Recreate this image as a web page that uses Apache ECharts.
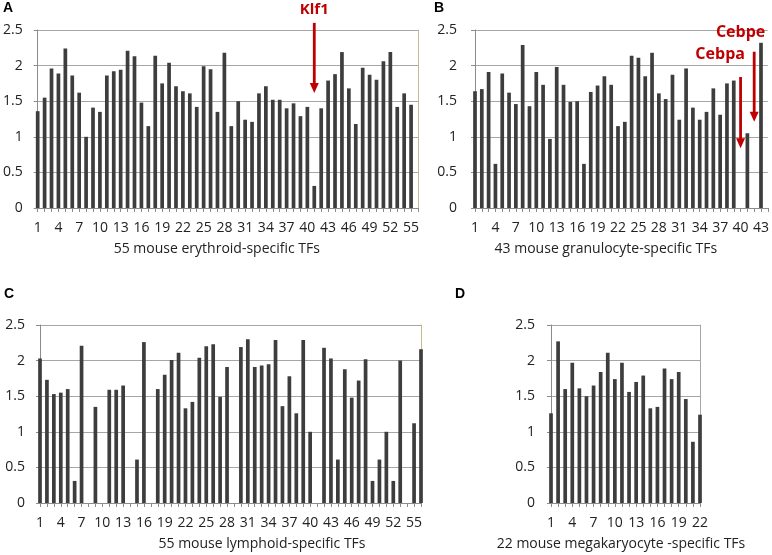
<!DOCTYPE html>
<html><head><meta charset="utf-8">
<script src="https://cdn.jsdelivr.net/npm/echarts/dist/echarts.min.js"></script>
<style>html,body{margin:0;padding:0;background:#fff}#c{width:772px;height:555px}</style>
</head><body><div id="c"></div><script>
// ---- data ----
const catsErythroid = ['1','2','3','4','5','6','7','8','9','10','11','12','13','14','15','16','17','18','19','20','21','22','23','24','25','26','27','28','29','30','31','32','33','34','35','36','37','38','39','40','41','42','43','44','45','46','47','48','49','50','51','52','53','54','55','56'];
const erythroid = [1.36,1.55,1.96,1.89,2.24,1.86,1.62,1.00,1.41,1.35,
  1.86,1.92,1.94,2.21,2.13,1.48,1.15,2.14,1.75,2.04,
  1.71,1.64,1.61,1.42,1.99,1.95,1.35,2.18,1.15,1.50,
  1.24,1.21,1.61,1.71,1.52,1.52,1.40,1.47,1.29,1.42,
  0.31,1.40,1.79,1.88,2.19,1.68,1.18,1.97,1.87,1.80,
  2.06,2.19,1.42,1.61,1.45];

const catsGranulocyte = ['1','2','3','4','5','6','7','8','9','10','11','12','13','14','15','16','17','18','19','20','21','22','23','24','25','26','27','28','29','30','31','32','33','34','35','36','37','38','39','40','41','42','43','44'];
const granulocyte = [1.64,1.67,1.91,0.62,1.89,1.62,1.46,2.29,1.43,1.91,
  1.73,0.97,1.98,1.73,1.49,1.50,0.62,1.63,1.72,1.85,
  1.73,1.15,1.21,2.14,2.11,1.85,2.18,1.61,1.53,1.87,
  1.24,1.96,1.41,1.24,1.35,1.68,1.31,1.75,1.79,0,
  1.05,0,2.32];

const catsLymphoid = ['1','2','3','4','5','6','7','8','9','10','11','12','13','14','15','16','17','18','19','20','21','22','23','24','25','26','27','28','29','30','31','32','33','34','35','36','37','38','39','40','41','42','43','44','45','46','47','48','49','50','51','52','53','54','55','56'];
const lymphoid = [2.03,1.73,1.53,1.55,1.60,0.31,2.21,0,1.35,0,
  1.59,1.59,1.65,0,0.61,2.26,0,1.60,1.80,2.01,
  2.11,1.33,1.42,2.04,2.20,2.23,1.49,1.91,0,2.19,
  2.30,1.91,1.93,1.95,2.29,1.36,1.78,1.26,2.29,1.00,
  0,2.18,2.03,0.61,1.88,1.48,1.72,2.02,0.31,0.61,
  1.00,0.31,2.00,0,1.12,2.16];

const catsMegakaryocyte = ['1','2','3','4','5','6','7','8','9','10','11','12','13','14','15','16','17','18','19','20','21','22'];
const megakaryocyte = [1.26,2.27,1.60,1.97,1.61,1.50,1.65,1.84,2.11,1.74,
  1.97,1.56,1.70,1.79,1.33,1.35,1.89,1.74,1.84,1.46,0.86,1.24];

const axisNames = ['55 mouse erythroid-specific TFs','43 mouse granulocyte-specific TFs',
  '55 mouse lymphoid-specific TFs','22 mouse megakaryocyte -specific TFs'];
const panelLetters = ['A','B','C','D'];

// annotations: [panel, category index, y from, y to, label, label category pos, label y, font size]
const arrows = [
  [0, 40, 2.60, 1.615, 'Klf1', 40.3, 2.78, 15],
  [1, 39, 1.84, 0.84, 'Cebpa', 35.5, 2.15, 16],
  [1, 41, 2.195, 1.21, 'Cebpe', 38.55, 2.465, 16]
];

// ---- layout ----
const FONT = '"Open Sans", sans-serif';
const panels = [
  {cats: catsErythroid, vals: erythroid, grid:{left:36, top:30, width:382, height:178}, border:'#c8b98c', lblMargin:15, namePad:[0,22,0,0]},
  {cats: catsGranulocyte, vals: granulocyte, grid:{left:475, top:30, width:297, height:178}, border:null, lblMargin:18, namePad:[0,31,0,0]},
  {cats: catsLymphoid, vals: lymphoid, grid:{left:40, top:325, width:381, height:178}, border:'#c8b98c', lblMargin:15, namePad:[0,0,0,63]},
  {cats: catsMegakaryocyte, vals: megakaryocyte, grid:{left:551, top:325, width:149, height:178}, border:'#a6a6a6', lblMargin:16, namePad:[0,9,0,0]}
];

const grid = [], xAxis = [], yAxis = [], series = [];
panels.forEach((p, i) => {
  grid.push(Object.assign({containLabel:false}, p.grid));
  xAxis.push({
    type:'category', gridIndex:i, data:p.cats, boundaryGap:false,
    axisLine:{lineStyle:{color:'#8c8c8c', width:1}},
    axisTick:{show:true, interval:0, length:4, lineStyle:{color:'#8c8c8c'}},
    axisLabel:{interval:2, color:'#222', fontFamily:FONT, fontSize:14, margin:13},
    splitLine:{show:false},
    name: axisNames[i], nameLocation:'middle', nameGap:34,
    nameTextStyle:{color:'#222', fontFamily:FONT, fontSize:14, padding:p.namePad}
  });
  yAxis.push({
    type:'value', gridIndex:i, min:0, max:2.5, interval:0.5,
    axisLine:{show:true, lineStyle:{color:'#8c8c8c'}},
    axisTick:{show:true, length:4, lineStyle:{color:'#8c8c8c'}},
    axisLabel:{color:'#222', fontFamily:FONT, fontSize:14, margin:p.lblMargin},
    splitLine:{show:true, lineStyle:{color:'#a6a6a6', width:1}}
  });
  series.push({
    type:'bar', xAxisIndex:i, yAxisIndex:i, data:p.vals, barWidth:3.7, clip:true,
    itemStyle:{color:'#3d3d3d'}, silent:true, animation:false
  });
});
// right-hand plot-area borders
panels.forEach((p, i) => {
  if (!p.border) return;
  yAxis.push({
    type:'value', gridIndex:i, position:'right', min:0, max:2.5, interval:0.5,
    axisLine:{show:true, lineStyle:{color:p.border, width:1}},
    axisTick:{show:false}, axisLabel:{show:false}, splitLine:{show:false}
  });
});

const chart = echarts.init(document.getElementById('c'), null, {renderer:'canvas'});
chart.setOption({animation:false, backgroundColor:'#fff', grid, xAxis, yAxis, series});

// ---- annotations ----
const RED = '#c00000';
const graphic = [];
const letterPos = [[3,1],[434,1],[4,287],[455,287]];
panelLetters.forEach((t, i) => {
  graphic.push({type:'text', left:letterPos[i][0], top:letterPos[i][1],
    style:{text:t, font:'bold 14px "Liberation Sans", Arial, sans-serif', fill:'#000'}});
});
arrows.forEach(a => {
  const [pi, ci, y1, y2, label, lx, ly, fs] = a;
  const p1 = chart.convertToPixel({xAxisIndex:pi, yAxisIndex:pi}, [ci, y1]);
  const p2 = chart.convertToPixel({xAxisIndex:pi, yAxisIndex:pi}, [ci, y2]);
  const pl = chart.convertToPixel({xAxisIndex:pi, yAxisIndex:pi}, [lx, ly]);
  graphic.push({type:'line', shape:{x1:p1[0], y1:p1[1], x2:p2[0], y2:p2[1]-9},
    style:{stroke:RED, lineWidth:2.8}, z:100});
  graphic.push({type:'polygon', shape:{points:[[p2[0]-4.5, p2[1]-10],[p2[0]+4.5, p2[1]-10],[p2[0], p2[1]]]},
    style:{fill:RED}, z:100});
  graphic.push({type:'text', x:pl[0], y:pl[1], z:100,
    style:{text:label, font:'bold '+fs+'px '+FONT, fill:RED, align:'center', verticalAlign:'middle'}});
});
chart.setOption({graphic});
</script></body></html>
